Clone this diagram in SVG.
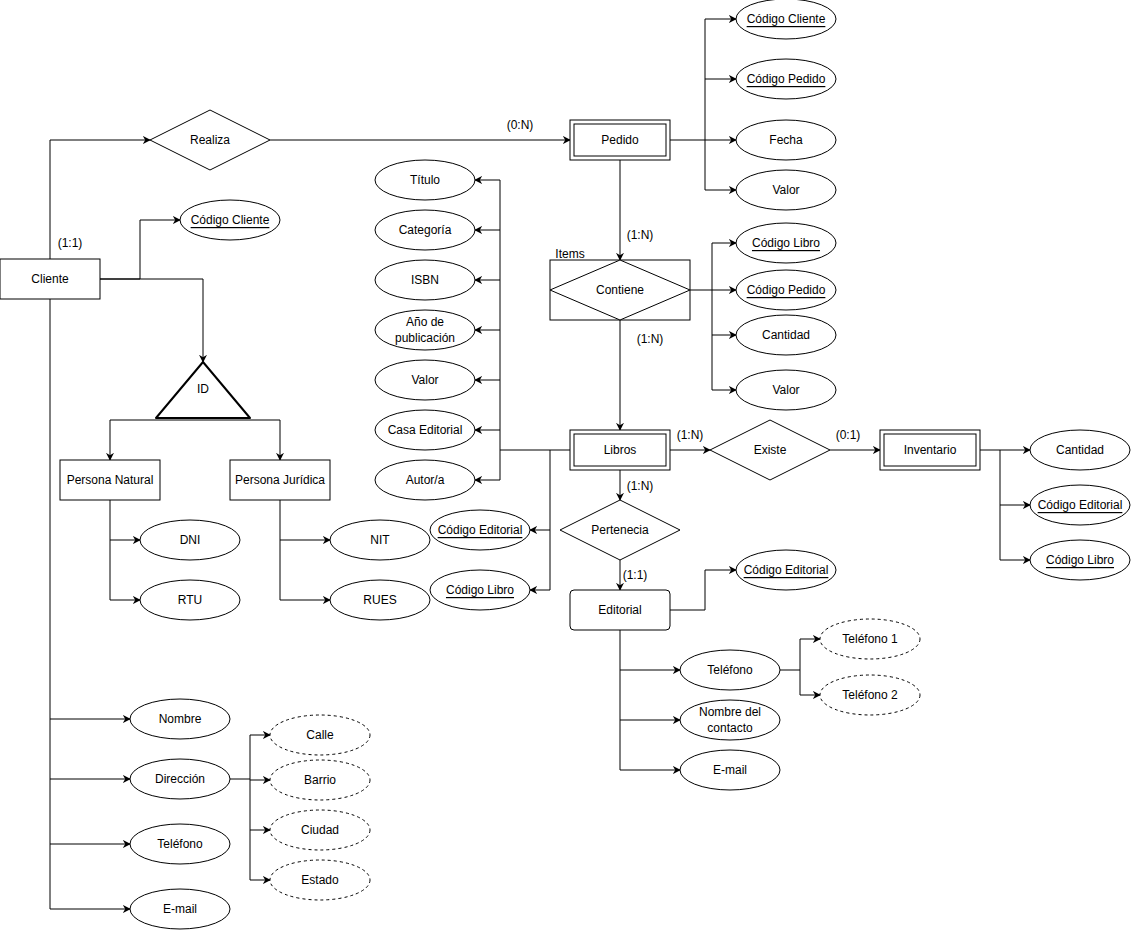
<svg xmlns="http://www.w3.org/2000/svg" width="1131" height="931" viewBox="0 0 1131 931">
<defs>
<marker id="a" viewBox="0 0 10 10" refX="9" refY="5" markerWidth="8" markerHeight="8" orient="auto" markerUnits="userSpaceOnUse"><path d="M0,0 L10,5 L0,10 L3,5 Z" fill="#000"/></marker>
<style>
text{font-family:"Liberation Sans",Arial,sans-serif;font-size:12px;text-anchor:middle;dominant-baseline:central;fill:#000}
.s{fill:#fff;stroke:#000;stroke-width:1}
.d{fill:#fff;stroke:#000;stroke-width:1;stroke-dasharray:3 3}
.k{text-decoration:underline}
.c path{fill:none;stroke:#000;stroke-width:1}
.c .m{marker-end:url(#a)}
</style>
</defs>
<rect width="1131" height="931" fill="#fff"/>
<g class="c">
<path class="m" d="M50,259 V140 H150"/>
<path class="m" d="M270,140 H570"/>
<path d="M50,299 V909"/>
<path class="m" d="M50,719 H130"/><path class="m" d="M50,779 H130"/><path class="m" d="M50,844 H130"/><path class="m" d="M50,909 H130"/>
<path class="m" d="M100,279 H140 V220 H180"/>
<path class="m" d="M100,279 H203 V362"/>
<path class="m" d="M280,420 H110 V460"/><path class="m" d="M280,420 V460"/>
<path d="M110,500 V600"/><path class="m" d="M110,540 H140"/><path class="m" d="M110,600 H140"/>
<path d="M280,500 V600"/><path class="m" d="M280,540 H330"/><path class="m" d="M280,600 H330"/>
<path d="M230,779 H250"/><path d="M250,735 V880"/>
<path class="m" d="M250,735 H270"/><path class="m" d="M250,780 H270"/><path class="m" d="M250,830 H270"/><path class="m" d="M250,880 H270"/>
<path d="M670,140 H705"/><path d="M705,19 V190"/>
<path class="m" d="M705,19 H736"/><path class="m" d="M705,79 H736"/><path class="m" d="M705,140 H736"/><path class="m" d="M705,190 H736"/>
<path class="m" d="M620,160 V260"/>
<path class="m" d="M620,320 V430"/>
<path d="M690,290 H712"/><path d="M712,243 V390"/>
<path class="m" d="M712,243 H736"/><path class="m" d="M712,290 H736"/><path class="m" d="M712,335 H736"/><path class="m" d="M712,390 H736"/>
<path d="M570,450 H500"/><path d="M500,180 V480"/>
<path class="m" d="M500,180 H475"/><path class="m" d="M500,230 H475"/><path class="m" d="M500,280 H475"/><path class="m" d="M500,330 H475"/><path class="m" d="M500,380 H475"/><path class="m" d="M500,430 H475"/><path class="m" d="M500,480 H475"/>
<path d="M550,450 V590"/><path class="m" d="M550,530 H530"/><path class="m" d="M550,590 H530"/>
<path class="m" d="M670,450 H710"/>
<path class="m" d="M830,450 H880"/>
<path d="M980,450 H1000 V560"/><path class="m" d="M1000,450 H1030"/><path class="m" d="M1000,505 H1030"/><path class="m" d="M1000,560 H1030"/>
<path class="m" d="M620,470 V500"/>
<path class="m" d="M620,560 V590"/>
<path class="m" d="M670,610 H705 V570 H736"/>
<path d="M620,630 V770"/><path class="m" d="M620,670 H680"/><path class="m" d="M620,720 H680"/><path class="m" d="M620,770 H680"/>
<path d="M780,670 H800"/><path d="M800,639 V695"/><path class="m" d="M800,639 H820"/><path class="m" d="M800,695 H820"/>
</g>
<g id="labels">
<text x="520" y="125">(0:N)</text>
<text x="70" y="243">(1:1)</text>
<text x="640" y="235">(1:N)</text>
<text x="650" y="339">(1:N)</text>
<text x="690" y="435">(1:N)</text>
<text x="848" y="435">(0:1)</text>
<text x="640" y="486">(1:N)</text>
<text x="635" y="575">(1:1)</text>
<text x="570" y="254">Items</text>
</g>
<g id="cliente"><rect class="s" x="0" y="259" width="100" height="40"/><text x="50" y="279">Cliente</text></g>
<g id="realiza"><path class="s" d="M150,140 L210,110 L270,140 L210,170 Z"/><text x="210" y="140">Realiza</text></g>
<g id="pedido"><rect class="s" x="570" y="120" width="100" height="40"/><rect class="s" x="574" y="124" width="92" height="32"/><text x="620" y="140">Pedido</text></g>
<g id="ped-cc"><ellipse class="s" cx="786" cy="19" rx="50" ry="20"/><text class="k" x="786" y="19">Código Cliente</text></g>
<g id="ped-cp"><ellipse class="s" cx="786" cy="79" rx="50" ry="20"/><text class="k" x="786" y="79">Código Pedido</text></g>
<g id="ped-f"><ellipse class="s" cx="786" cy="140" rx="50" ry="20"/><text x="786" y="140">Fecha</text></g>
<g id="ped-v"><ellipse class="s" cx="786" cy="190" rx="50" ry="20"/><text x="786" y="190">Valor</text></g>
<g id="cli-cc"><ellipse class="s" cx="230" cy="220" rx="50" ry="20"/><text class="k" x="230" y="220">Código Cliente</text></g>
<g id="id"><path class="s" stroke-width="2" stroke-linejoin="round" d="M203,362 L250,418 L156,418 Z" style="stroke-width:2"/><text x="203" y="389">ID</text></g>
<g id="pnat"><rect class="s" x="60" y="460" width="100" height="40"/><text x="110" y="480">Persona Natural</text></g>
<g id="pjur"><rect class="s" x="230" y="460" width="100" height="40"/><text x="280" y="480">Persona Jurídica</text></g>
<g id="dni"><ellipse class="s" cx="190" cy="540" rx="50" ry="20"/><text x="190" y="540">DNI</text></g>
<g id="rtu"><ellipse class="s" cx="190" cy="600" rx="50" ry="20"/><text x="190" y="600">RTU</text></g>
<g id="nit"><ellipse class="s" cx="380" cy="540" rx="50" ry="20"/><text x="380" y="540">NIT</text></g>
<g id="rues"><ellipse class="s" cx="380" cy="600" rx="50" ry="20"/><text x="380" y="600">RUES</text></g>
<g id="nombre"><ellipse class="s" cx="180" cy="719" rx="50" ry="20"/><text x="180" y="719">Nombre</text></g>
<g id="direccion"><ellipse class="s" cx="180" cy="779" rx="50" ry="20"/><text x="180" y="779">Dirección</text></g>
<g id="telefono"><ellipse class="s" cx="180" cy="844" rx="50" ry="20"/><text x="180" y="844">Teléfono</text></g>
<g id="email"><ellipse class="s" cx="180" cy="909" rx="50" ry="20"/><text x="180" y="909">E-mail</text></g>
<g id="calle"><ellipse class="d" cx="320" cy="735" rx="50" ry="20"/><text x="320" y="735">Calle</text></g>
<g id="barrio"><ellipse class="d" cx="320" cy="780" rx="50" ry="20"/><text x="320" y="780">Barrio</text></g>
<g id="ciudad"><ellipse class="d" cx="320" cy="830" rx="50" ry="20"/><text x="320" y="830">Ciudad</text></g>
<g id="estado"><ellipse class="d" cx="320" cy="880" rx="50" ry="20"/><text x="320" y="880">Estado</text></g>
<g id="titulo"><ellipse class="s" cx="425" cy="180" rx="50" ry="20"/><text x="425" y="180">Título</text></g>
<g id="categoria"><ellipse class="s" cx="425" cy="230" rx="50" ry="20"/><text x="425" y="230">Categoría</text></g>
<g id="isbn"><ellipse class="s" cx="425" cy="280" rx="50" ry="20"/><text x="425" y="280">ISBN</text></g>
<g id="anio"><ellipse class="s" cx="425" cy="330" rx="50" ry="20"/><text x="425" y="322">Año de</text><text x="425" y="338">publicación</text></g>
<g id="lib-valor"><ellipse class="s" cx="425" cy="380" rx="50" ry="20"/><text x="425" y="380">Valor</text></g>
<g id="casa"><ellipse class="s" cx="425" cy="430" rx="50" ry="20"/><text x="425" y="430">Casa Editorial</text></g>
<g id="autor"><ellipse class="s" cx="425" cy="480" rx="50" ry="20"/><text x="425" y="480">Autor/a</text></g>
<g id="lib-ce"><ellipse class="s" cx="480" cy="530" rx="50" ry="20"/><text class="k" x="480" y="530">Código Editorial</text></g>
<g id="lib-cl"><ellipse class="s" cx="480" cy="590" rx="50" ry="20"/><text class="k" x="480" y="590">Código Libro</text></g>
<g id="contiene"><rect class="s" x="550" y="260" width="140" height="60"/><path class="s" d="M550,290 L620,260 L690,290 L620,320 Z"/><text x="620" y="290">Contiene</text></g>
<g id="con-cl"><ellipse class="s" cx="786" cy="243" rx="50" ry="20"/><text class="k" x="786" y="243">Código Libro</text></g>
<g id="con-cp"><ellipse class="s" cx="786" cy="290" rx="50" ry="20"/><text class="k" x="786" y="290">Código Pedido</text></g>
<g id="con-cant"><ellipse class="s" cx="786" cy="335" rx="50" ry="20"/><text x="786" y="335">Cantidad</text></g>
<g id="con-valor"><ellipse class="s" cx="786" cy="390" rx="50" ry="20"/><text x="786" y="390">Valor</text></g>
<g id="libros"><rect class="s" x="570" y="430" width="100" height="40"/><rect class="s" x="574" y="434" width="92" height="32"/><text x="620" y="450">Libros</text></g>
<g id="existe"><path class="s" d="M710,450 L770,420 L830,450 L770,480 Z"/><text x="770" y="450">Existe</text></g>
<g id="inventario"><rect class="s" x="880" y="430" width="100" height="40"/><rect class="s" x="884" y="434" width="92" height="32"/><text x="930" y="450">Inventario</text></g>
<g id="inv-cant"><ellipse class="s" cx="1080" cy="450" rx="50" ry="20"/><text x="1080" y="450">Cantidad</text></g>
<g id="inv-ce"><ellipse class="s" cx="1080" cy="505" rx="50" ry="20"/><text class="k" x="1080" y="505">Código Editorial</text></g>
<g id="inv-cl"><ellipse class="s" cx="1080" cy="560" rx="50" ry="20"/><text class="k" x="1080" y="560">Código Libro</text></g>
<g id="pertenecia"><path class="s" d="M560,530 L620,500 L680,530 L620,560 Z"/><text x="620" y="530">Pertenecia</text></g>
<g id="editorial"><rect class="s" x="570" y="590" width="100" height="40" rx="4"/><text x="620" y="610">Editorial</text></g>
<g id="ed-ce"><ellipse class="s" cx="786" cy="570" rx="50" ry="20"/><text class="k" x="786" y="570">Código Editorial</text></g>
<g id="ed-tel"><ellipse class="s" cx="730" cy="670" rx="50" ry="20"/><text x="730" y="670">Teléfono</text></g>
<g id="ed-nc"><ellipse class="s" cx="730" cy="720" rx="50" ry="20"/><text x="730" y="712">Nombre del</text><text x="730" y="728">contacto</text></g>
<g id="ed-email"><ellipse class="s" cx="730" cy="770" rx="50" ry="20"/><text x="730" y="770">E-mail</text></g>
<g id="tel1"><ellipse class="d" cx="870" cy="639" rx="50" ry="20"/><text x="870" y="639">Teléfono 1</text></g>
<g id="tel2"><ellipse class="d" cx="870" cy="695" rx="50" ry="20"/><text x="870" y="695">Teléfono 2</text></g>
</svg>
